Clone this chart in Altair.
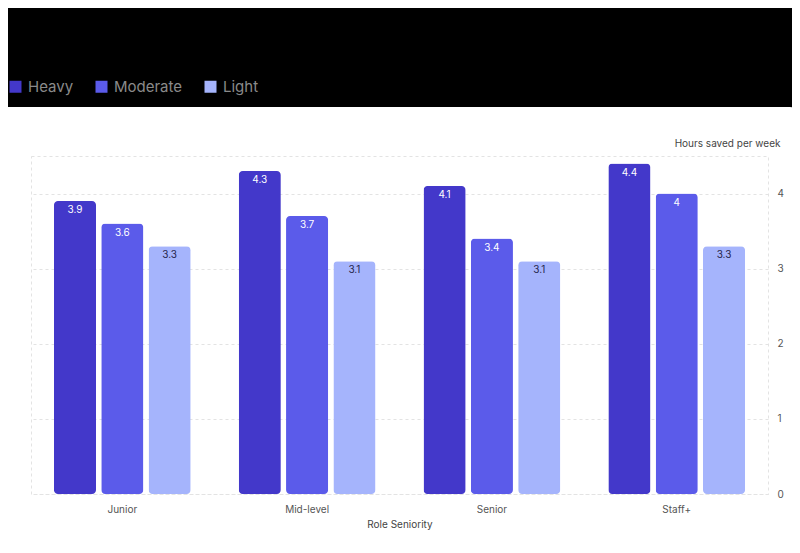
import altair as alt
import pandas as pd

seniority = ["Junior", "Mid-level", "Senior", "Staff+"]
series = ["Heavy", "Moderate", "Light"]
heavy = [3.9, 4.3, 4.1, 4.4]
moderate = [3.6, 3.7, 3.4, 4.0]
light = [3.3, 3.1, 3.1, 3.3]
colors = ["#4338ca", "#5b5bea", "#a5b4fc"]
y_ticks = [0, 1, 2, 3, 4]

rows = []
for i, s in enumerate(seniority):
    for name, vals in zip(series, [heavy, moderate, light]):
        rows.append({"role": s, "usage": name, "hours": vals[i]})
df = pd.DataFrame(rows)

x_enc = alt.X(
    "role:N", sort=seniority, title="Role Seniority",
    scale=alt.Scale(paddingInner=0.26, paddingOuter=0.124),
    axis=alt.Axis(labelAngle=0, domain=False, ticks=False, tickSize=0, labelPadding=10,
                  labelFontSize=10, labelColor="#555555", titleFontSize=10,
                  titleColor="#444444", titleFontWeight="normal", titlePadding=5, grid=False),
)
xo_enc = alt.XOffset("usage:N", sort=series, scale=alt.Scale(paddingInner=0.11, paddingOuter=0))
y_enc = alt.Y(
    "hours:Q", scale=alt.Scale(domain=[0, 4.5], nice=False),
    axis=alt.Axis(orient="right", values=y_ticks, format="d", title="Hours saved per week",
                  domain=False, ticks=False, tickSize=0, labelPadding=9,
                  labelFontSize=10, labelColor="#555555",
                  grid=True, gridColor="#e3e3e3", gridDash=[3, 3],
                  titleAngle=0, titleAlign="right", titleBaseline="middle",
                  titleX=12, titleY=-13, titleFontSize=10, titleColor="#444444",
                  titleFontWeight="normal"),
)

bars = alt.Chart(df).mark_bar(cornerRadius=4).encode(
    x=x_enc, xOffset=xo_enc, y=y_enc,
    color=alt.Color("usage:N", sort=series,
                    scale=alt.Scale(domain=series, range=colors),
                    legend=alt.Legend(orient="none", legendX=-23, legendY=-77,
                                      direction="horizontal", title=None,
                                      symbolType="square", symbolSize=144,
                                      symbolStrokeWidth=0, labelFontSize=15,
                                      labelColor="#8a8a8a", labelOffset=5,
                                      columnPadding=20)),
)

labels = alt.Chart(df).mark_text(baseline="middle", dy=9, fontSize=10).encode(
    x=alt.X("role:N", sort=seniority),
    xOffset=alt.XOffset("usage:N", sort=series),
    y=alt.Y("hours:Q"),
    text=alt.Text("hours:Q", format="~g"),
    color=alt.condition("datum.usage === 'Light'", alt.value("#25254a"), alt.value("#ffffff")),
)

frame = alt.Chart(alt.Data(values=[{}])).mark_rect(
    fillOpacity=0, stroke="#000000", strokeWidth=200, cornerRadius=108
).encode(
    x=alt.value(-131), x2=alt.value(867), y=alt.value(-149), y2=alt.value(492)
)

chart = alt.layer(bars, labels, frame).properties(
    width=737, height=338,
    autosize=alt.AutoSizeParams(type="none"),
    padding={"left": 23, "top": 148, "right": 24, "bottom": 51},
    background="white",
).configure(font="Inter").configure_view(
    stroke="#e3e3e3", strokeDash=[3, 3], strokeWidth=1
)

chart.save("out.html", embed_options={"renderer": "svg", "actions": False})
